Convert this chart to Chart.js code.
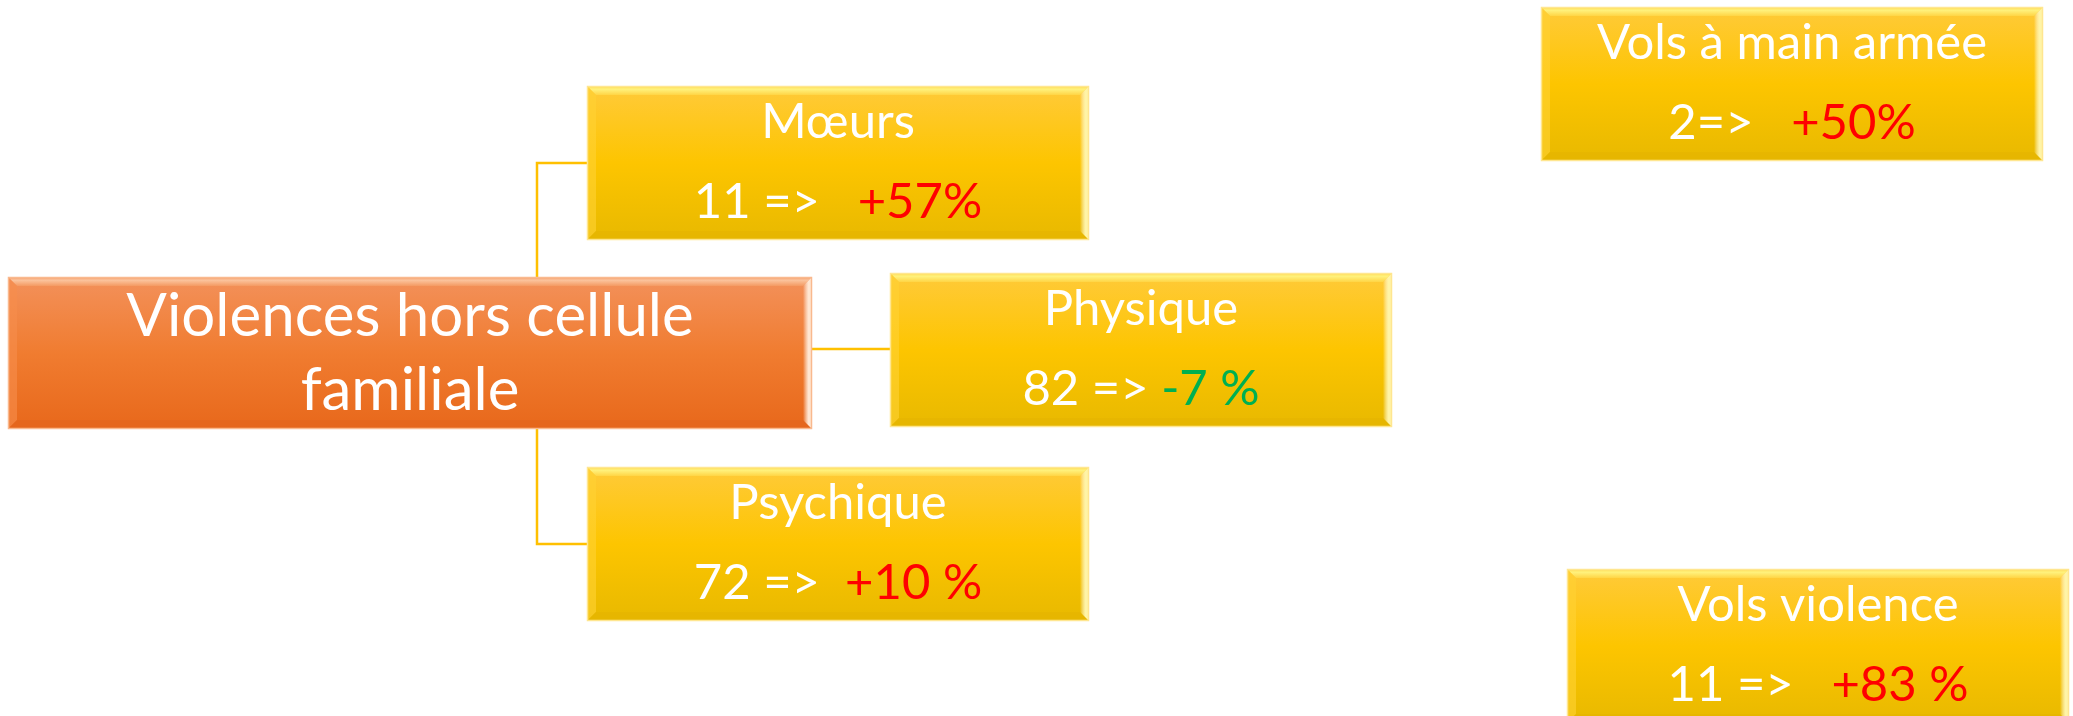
<!DOCTYPE html>
<html>
<head>
<meta charset="utf-8">
<script src="https://cdn.jsdelivr.net/npm/chart.js@4"></script>
<style>
  html, body { margin: 0; padding: 0; background: #ffffff; }
  #wrap { width: 2073px; height: 716px; position: relative; }
</style>
</head>
<body>
<div id="wrap"><canvas id="chartViolences"></canvas></div>
<script>
// data
const nodeNames = ["Violences hors cellule", "Mœurs", "Physique", "Psychique", "Vols à main armée", "Vols violence"];
const nodeSubNames = ["familiale", null, null, null, null, null];
const nodeCounts = [null, 11, 82, 72, 2, 11];
const nodeArrows = [null, " =>   ", " => ", " =>  ", "=>   ", " =>   "];
const nodeChanges = [null, "+57%", "-7 %", "+10 %", "+50%", "+83 %"];
const nodeParents = [null, 0, 0, 0, null, null];

// layout (diagram units)
const nodeX = [410, 838, 1141, 838, 1792, 1818];
const nodeY = [353, 163, 350, 544, 84, 646];
const nodeKind = ["root", "leaf", "leaf", "leaf", "leaf", "leaf"];

const boxSize = {
  root: { w: 804, h: 152 },
  leaf: { w: 502, h: 154 },
};

const palettes = {
  root: {
    top: "#F3915B", mid: "#F07C30", bottom: "#E8681B",
    bevelTop: "#FBC49E", bevelTop2: "#F49A62",
    bevelLeft: "#F68E4C", bevelRight: "#FFE6D2", bevelBottom: "#E2641C",
    border: "#F9B98E",
  },
  leaf: {
    top: "#FFCA3A", mid: "#FDC500", bottom: "#E8B900",
    bevelTop: "#FFF27E", bevelTop2: "#FFD545",
    bevelLeft: "#FFD233", bevelRight: "#FFF4A6", bevelBottom: "#E4B400",
    border: "#FFE690",
  },
};

const elbowX = 537;
const connectorColor = "#FFC000";

function nodeRect(i, sx, sy) {
  const size = boxSize[nodeKind[i]];
  const x0 = sx.getPixelForValue(nodeX[i] - size.w / 2);
  const x1 = sx.getPixelForValue(nodeX[i] + size.w / 2);
  const y0 = sy.getPixelForValue(nodeY[i] - size.h / 2);
  const y1 = sy.getPixelForValue(nodeY[i] + size.h / 2);
  return { x0: x0, y0: y0, w: x1 - x0, h: y1 - y0 };
}

// connectors built from the node arrays
function connectorDatasets() {
  var sets = [];
  for (var i = 0; i < nodeParents.length; i++) {
    var p = nodeParents[i];
    if (p === null) continue;
    var ps = boxSize[nodeKind[p]];
    var cs = boxSize[nodeKind[i]];
    var childLeft = nodeX[i] - cs.w / 2;
    var pts;
    if (Math.abs(nodeY[i] - nodeY[p]) < ps.h / 2) {
      pts = [
        { x: nodeX[p] + ps.w / 2, y: nodeY[i] - 1 },
        { x: childLeft, y: nodeY[i] - 1 },
      ];
    } else {
      var edgeY = nodeY[i] < nodeY[p] ? nodeY[p] - ps.h / 2 : nodeY[p] + ps.h / 2;
      pts = [
        { x: elbowX, y: edgeY },
        { x: elbowX, y: nodeY[i] },
        { x: childLeft, y: nodeY[i] },
      ];
    }
    sets.push({
      type: "line",
      data: pts,
      borderColor: connectorColor,
      borderWidth: 2.5,
      pointRadius: 0,
      fill: false,
      tension: 0,
    });
  }
  return sets;
}

function drawBevelBox(ctx, r, pal) {
  var x0 = r.x0, y0 = r.y0, w = r.w, h = r.h;
  var b = 9;

  var g = ctx.createLinearGradient(0, y0, 0, y0 + h);
  g.addColorStop(0, pal.top);
  g.addColorStop(0.5, pal.mid);
  g.addColorStop(1, pal.bottom);
  ctx.fillStyle = g;
  ctx.fillRect(x0, y0, w, h);

  // top bevel
  var gt = ctx.createLinearGradient(0, y0, 0, y0 + b);
  gt.addColorStop(0, pal.bevelTop2);
  gt.addColorStop(0.35, pal.bevelTop);
  gt.addColorStop(1, pal.bevelTop2);
  ctx.fillStyle = gt;
  ctx.beginPath();
  ctx.moveTo(x0, y0);
  ctx.lineTo(x0 + w, y0);
  ctx.lineTo(x0 + w - b, y0 + b);
  ctx.lineTo(x0 + b, y0 + b);
  ctx.closePath();
  ctx.fill();

  // left bevel
  ctx.globalAlpha = 0.6;
  ctx.fillStyle = pal.bevelLeft;
  ctx.beginPath();
  ctx.moveTo(x0, y0);
  ctx.lineTo(x0 + b, y0 + b);
  ctx.lineTo(x0 + b, y0 + h - b);
  ctx.lineTo(x0, y0 + h);
  ctx.closePath();
  ctx.fill();

  // bottom bevel
  ctx.fillStyle = pal.bevelBottom;
  ctx.beginPath();
  ctx.moveTo(x0, y0 + h);
  ctx.lineTo(x0 + b, y0 + h - b);
  ctx.lineTo(x0 + w - b, y0 + h - b);
  ctx.lineTo(x0 + w, y0 + h);
  ctx.closePath();
  ctx.fill();
  ctx.globalAlpha = 1;

  // right bevel
  var gr = ctx.createLinearGradient(x0 + w - b, 0, x0 + w, 0);
  gr.addColorStop(0, "rgba(255,255,255,0)");
  gr.addColorStop(0.6, pal.bevelRight);
  gr.addColorStop(1, pal.bevelRight);
  ctx.fillStyle = gr;
  ctx.beginPath();
  ctx.moveTo(x0 + w, y0);
  ctx.lineTo(x0 + w, y0 + h);
  ctx.lineTo(x0 + w - b, y0 + h - b);
  ctx.lineTo(x0 + w - b, y0 + b);
  ctx.closePath();
  ctx.fill();

  ctx.strokeStyle = pal.border;
  ctx.lineWidth = 1.5;
  ctx.strokeRect(x0 + 0.5, y0 + 0.5, w - 1, h - 1);
}

const boxesPlugin = {
  id: "boxes",
  afterDatasetsDraw: function (chart) {
    var ctx = chart.ctx;
    var sx = chart.scales.x;
    var sy = chart.scales.y;
    ctx.save();
    for (var i = 0; i < nodeNames.length; i++) {
      var r = nodeRect(i, sx, sy);
      var kind = nodeKind[i];
      drawBevelBox(ctx, r, palettes[kind]);
      var cx = r.x0 + r.w / 2;
      ctx.textBaseline = "alphabetic";
      ctx.fillStyle = "#ffffff";

      if (kind === "root") {
        ctx.font = "60px Lato";
        ctx.textAlign = "center";
        ctx.fillText(nodeNames[i], cx, r.y0 + 59);
        if (nodeSubNames[i]) ctx.fillText(nodeSubNames[i], cx, r.y0 + 133);
        continue;
      }

      ctx.font = "49px Lato";
      ctx.textAlign = "center";
      ctx.fillText(nodeNames[i], cx, r.y0 + 52);

      var lead = String(nodeCounts[i]) + nodeArrows[i];
      var chg = nodeChanges[i];
      var wLead = ctx.measureText(lead).width;
      var wChg = ctx.measureText(chg).width;
      var start = cx - (wLead + wChg) / 2;
      ctx.textAlign = "left";
      ctx.fillStyle = "#ffffff";
      ctx.fillText(lead, start, r.y0 + 132);
      ctx.fillStyle = chg.charAt(0) === "-" ? "#00B050" : "#FF0000";
      ctx.fillText(chg, start + wLead, r.y0 + 132);
    }
    ctx.restore();
  },
};

document.addEventListener("DOMContentLoaded", function () {
  var canvas = document.getElementById("chartViolences");

  var anchors = nodeX.map(function (x, i) {
    return { x: x, y: nodeY[i] };
  });

  new Chart(canvas, {
    type: "scatter",
    data: {
      datasets: [
        { data: anchors, pointRadius: 0, pointHoverRadius: 0 },
      ].concat(connectorDatasets()),
    },
    options: {
      responsive: true,
      maintainAspectRatio: false,
      animation: false,
      layout: { padding: 0 },
      plugins: {
        legend: { display: false },
        tooltip: { enabled: false },
      },
      scales: {
        x: { type: "linear", min: 0, max: 2073, display: false },
        y: { type: "linear", min: 0, max: 716, reverse: true, display: false },
      },
    },
    plugins: [boxesPlugin],
  });
});
</script>
</body>
</html>
